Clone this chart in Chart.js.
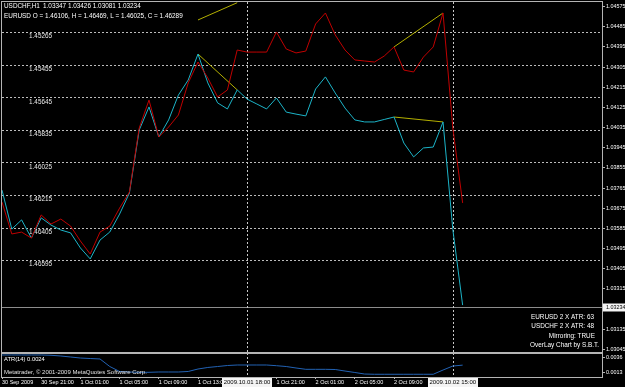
<!DOCTYPE html>
<html>
<head>
<meta charset="utf-8">
<script src="https://cdn.jsdelivr.net/npm/chart.js@4.4.1/dist/chart.umd.min.js"></script>
<style>
  html, body { margin: 0; padding: 0; background: #000; }
  #wrap { position: relative; width: 625px; height: 387px; overflow: hidden; background: #000; }
  .box { position: absolute; left: 0; width: 625px; }
</style>
</head>
<body>
<div id="wrap">
  <div class="box" style="top:0;height:353px"><canvas id="mainChart"></canvas></div>
  <div class="box" style="top:353px;height:34px"><canvas id="atrChart"></canvas></div>
</div>
<script>
// horas desde 1 Oct 2009 00:00 (barras H1)
const hours = [-7, -6, -5, -4, -3, -2, -1, 0, 1, 2, 3, 4, 5, 6, 7, 8, 9, 10, 11, 12, 13, 14, 15, 16,
  17, 18, 19, 20, 21, 22, 23, 24, 25, 26, 27, 28, 29, 30, 31, 32, 33, 34, 35, 36, 37, 38, 39, 40];

const usdchf = [1.03756, 1.03582, 1.03623, 1.03542, 1.03632, 1.03600, 1.03578, 1.03565,
  1.03498, 1.03449, 1.03533, 1.03569, 1.03649, 1.03743, 1.04024, 1.04127,
  1.03993, 1.04069, 1.04180, 1.04247, 1.04363, 1.04234, 1.04145, 1.04118,
  1.04203, 1.04162, 1.04140, 1.04118, 1.04167, 1.04104, 1.04095, 1.04087,
  1.04207, 1.04261, 1.04189, 1.04122, 1.04069, 1.04060, 1.04060, 1.04071,
  1.04082, 1.03966, 1.03904, 1.03944, 1.03948, 1.04060, 1.03580, 1.03243];

// EURUSD espejado (eje invertido)
const eurusd = [1.46253, 1.46439, 1.46428, 1.46463, 1.46328, 1.46381, 1.46352, 1.46393,
  1.46480, 1.46556, 1.46428, 1.46393, 1.46288, 1.46194, 1.45821, 1.45658,
  1.45873, 1.45815, 1.45745, 1.45558, 1.45436, 1.45529, 1.45640, 1.45599,
  1.45366, 1.45378, 1.45378, 1.45378, 1.45261, 1.45360, 1.45383, 1.45372,
  1.45214, 1.45150, 1.45278, 1.45366, 1.45424, 1.45430, 1.45436, 1.45401,
  1.45348, 1.45483, 1.45494, 1.45407, 1.45348, 1.45150, 1.45821, 1.46258];

const atr = [0.00403, 0.00403, 0.00403, 0.00403, 0.00403, 0.00398, 0.00387, 0.00371,
  0.00355, 0.00347, 0.00340, 0.00221, 0.00143, 0.00135, 0.00130, 0.00130,
  0.00135, 0.00135, 0.00135, 0.00143, 0.00182, 0.00206, 0.00221, 0.00237,
  0.00245, 0.00245, 0.00245, 0.00245, 0.00234, 0.00221, 0.00198, 0.00177,
  0.00177, 0.00177, 0.00174, 0.00150, 0.00127, 0.00103, 0.00099, 0.00099,
  0.00099, 0.00099, 0.00099, 0.00099, 0.00099, 0.00166, 0.00229, 0.00243];

// líneas de tendencia (amarillas)
const trendTop = [{ x: 13, y: 1.04515 }, { x: 17, y: 1.04592 }];
const trendUsdA = [{ x: 13, y: 1.04363 }, { x: 17, y: 1.04203 }];
const trendUsdB = [{ x: 33, y: 1.04082 }, { x: 38, y: 1.04060 }];
const trendEur = [{ x: 33, y: 1.45348 }, { x: 38, y: 1.45150 }];

const usdTicks = [1.04575, 1.04485, 1.04395, 1.04305, 1.04215, 1.04125, 1.04035, 1.03945, 1.03855,
  1.03765, 1.03675, 1.03585, 1.03495, 1.03405, 1.03315, 1.03135, 1.03045];
const eurTicks = [1.45265, 1.45455, 1.45645, 1.45835, 1.46025, 1.46215, 1.46405, 1.46595];
const atrTicks = [0.0036, 0.0013];
const timeTicks = [-7, -3, 1, 5, 9, 13, 17, 21, 25, 29, 33, 37];
const timeLabels = ['30 Sep 2009', '30 Sep 21:00', '1 Oct 01:00', '1 Oct 05:00', '1 Oct 09:00', '1 Oct 13:00',
  '1 Oct 17:00', '1 Oct 21:00', '2 Oct 01:00', '2 Oct 05:00', '2 Oct 09:00', '2 Oct 13:00'];
const markerHours = [18, 39];
const markerLabels = ['2009.10.01 18:00', '2009.10.02 15:00'];

const bidPrice = 1.03234;
const usdHeader = ['1.03347', '1.03426', '1.03081', '1.03234'];
const eurHeader = 'EURUSD O = 1.46106, H = 1.46469, L = 1.46025, C = 1.46289';
const infoLines = ['EURUSD 2 X ATR: 63', 'USDCHF 2 X ATR: 48', 'Mirroring: TRUE', 'OverLay Chart by S.B.T.'];

const FONT = '"Liberation Sans", Arial, sans-serif';
Chart.defaults.font.family = FONT;
Chart.defaults.font.size = 6.4;
Chart.defaults.color = '#ffffff';

const pts = arr => arr.map((v, i) => ({ x: hours[i], y: v }));
const xMin = -7, xMax = 54.22;

// quita el relleno que Chart.js reserva para las etiquetas de los extremos
const noPadY = w => s => { s.width = w; s.paddingTop = 0; s.paddingBottom = 0; };

const mainDecor = {
  id: 'mainDecor',
  beforeDatasetsDraw(chart) {
    const { ctx, chartArea: a, scales } = chart;
    ctx.save();
    const yb = Math.round(scales.yUsd.getPixelForValue(bidPrice)) + 0.5;
    ctx.strokeStyle = '#8c8c8c';
    ctx.lineWidth = 1;
    ctx.beginPath(); ctx.moveTo(a.left, yb); ctx.lineTo(a.right, yb); ctx.stroke();
    ctx.setLineDash([2, 2]);
    ctx.strokeStyle = '#c8c8c8';
    markerHours.forEach(h => {
      const x = Math.round(scales.x.getPixelForValue(h)) + 0.5;
      ctx.beginPath(); ctx.moveTo(x, a.top); ctx.lineTo(x, a.bottom); ctx.stroke();
    });
    ctx.restore();
  },
  afterDraw(chart) {
    const { ctx, chartArea: a, scales } = chart;
    ctx.save();
    ctx.strokeStyle = '#b4b4b4';
    ctx.lineWidth = 1;
    ctx.strokeRect(a.left - 0.5, a.top - 0.5, a.right - a.left + 1, a.bottom - a.top + 1);

    ctx.font = '6.4px ' + FONT;
    ctx.fillStyle = '#ffffff';
    ctx.textBaseline = 'middle';
    ctx.textAlign = 'left';
    ctx.fillText('USDCHF,H1', 4, 6.5);
    ctx.fillText(usdHeader.join(' '), 43, 6.5);
    ctx.fillText(eurHeader, 4, 16);

    ctx.textAlign = 'right';
    const infoX = [594, 594, 595, 599];
    const infoY = [317, 326.5, 336, 345.5];
    infoLines.forEach((t, i) => ctx.fillText(t, infoX[i], infoY[i]));

    // recuadro del precio actual
    const yb = Math.round(scales.yUsd.getPixelForValue(bidPrice));
    ctx.font = '5.4px ' + FONT;
    ctx.fillStyle = '#f4f4f4';
    ctx.fillRect(a.right + 1, yb - 3.5, 625 - a.right - 1, 8);
    ctx.fillStyle = '#000000';
    ctx.textAlign = 'left';
    ctx.fillText(bidPrice.toFixed(5), a.right + 4, yb + 0.5);
    ctx.restore();
  }
};

const atrDecor = {
  id: 'atrDecor',
  beforeDatasetsDraw(chart) {
    const { ctx, chartArea: a, scales } = chart;
    ctx.save();
    ctx.setLineDash([2, 2]);
    ctx.strokeStyle = '#c8c8c8';
    ctx.lineWidth = 1;
    markerHours.forEach(h => {
      const x = Math.round(scales.x.getPixelForValue(h)) + 0.5;
      ctx.beginPath(); ctx.moveTo(x, 0); ctx.lineTo(x, a.bottom + 1); ctx.stroke();
    });
    ctx.restore();
  },
  afterDraw(chart) {
    const { ctx, chartArea: a, scales } = chart;
    ctx.save();
    ctx.strokeStyle = '#b4b4b4';
    ctx.lineWidth = 1;
    ctx.strokeRect(a.left - 0.5, a.top - 0.5, a.right - a.left + 1, a.bottom - a.top + 1);

    ctx.textBaseline = 'middle';
    ctx.textAlign = 'left';
    ctx.fillStyle = '#ffffff';
    ctx.font = '5.8px ' + FONT;
    ctx.fillText('ATR(14) ' + atr[atr.length - 1].toFixed(4), 4, 6.5);
    ctx.fillStyle = '#e0e0e0';
    ctx.font = '6px ' + FONT;
    ctx.fillText('Metatrader, \u00a9 2001-2009 MetaQuotes Software Corp.', 4, 19.5);

    ctx.font = '6px ' + FONT;
    markerHours.forEach((h, i) => {
      const x = scales.x.getPixelForValue(h);
      const w = ctx.measureText(markerLabels[i]).width + 3;
      ctx.fillStyle = '#f4f4f4';
      ctx.fillRect(Math.round(x - w / 2), a.bottom + 1, Math.round(w), 9);
      ctx.fillStyle = '#000000';
      ctx.textAlign = 'center';
      ctx.fillText(markerLabels[i], x, a.bottom + 5.5);
    });
    ctx.restore();
  }
};

new Chart(document.getElementById('mainChart'), {
  type: 'line',
  data: {
    datasets: [
      { label: 'EURUSD', data: pts(eurusd), yAxisID: 'yEur', borderColor: '#c00000', borderWidth: 1, pointRadius: 0, tension: 0 },
      { label: 'USDCHF', data: pts(usdchf), yAxisID: 'yUsd', borderColor: '#1cb4c8', borderWidth: 1, pointRadius: 0, tension: 0 },
      { label: 't1', data: trendTop, yAxisID: 'yUsd', borderColor: '#b4b000', borderWidth: 1, pointRadius: 0 },
      { label: 't2', data: trendUsdA, yAxisID: 'yUsd', borderColor: '#b4b000', borderWidth: 1, pointRadius: 0 },
      { label: 't3', data: trendUsdB, yAxisID: 'yUsd', borderColor: '#b4b000', borderWidth: 1, pointRadius: 0 },
      { label: 't4', data: trendEur, yAxisID: 'yEur', borderColor: '#b4b000', borderWidth: 1, pointRadius: 0 }
    ]
  },
  options: {
    responsive: true,
    maintainAspectRatio: false,
    animation: false,
    devicePixelRatio: 1,
    layout: { padding: { top: 2, bottom: 1, left: 0, right: 0 } },
    plugins: { legend: { display: false }, tooltip: { enabled: false } },
    scales: {
      x: { type: 'linear', min: xMin, max: xMax, display: false },
      yEur: {
        position: 'left',
        reverse: true,
        min: 1.450859,
        max: 1.471275,
        afterBuildTicks: s => { s.ticks = eurTicks.map(v => ({ value: v })); },
        afterFit: noPadY(2),
        ticks: {
          mirror: true,
          padding: 27,
          labelOffset: 4,
          color: '#e8e8e8',
          callback: v => v.toFixed(5)
        },
        grid: { color: '#bcbcbc', drawTicks: false, lineWidth: 1 },
        border: { display: false, dash: [2, 2] }
      },
      yUsd: {
        position: 'right',
        min: 1.030337,
        max: 1.045951,
        afterBuildTicks: s => { s.ticks = usdTicks.map(v => ({ value: v })); },
        afterFit: noPadY(23),
        ticks: { autoSkip: false, padding: 1, color: '#ffffff', font: { size: 5.4 }, callback: v => v.toFixed(5) },
        grid: { drawOnChartArea: false, tickLength: 3, color: '#b4b4b4' },
        border: { display: false }
      }
    }
  },
  plugins: [mainDecor]
});

new Chart(document.getElementById('atrChart'), {
  type: 'line',
  data: {
    datasets: [
      { label: 'ATR(14)', data: pts(atr), yAxisID: 'yAtr', borderColor: '#2262b4', borderWidth: 1, pointRadius: 0, tension: 0 }
    ]
  },
  options: {
    responsive: true,
    maintainAspectRatio: false,
    animation: false,
    devicePixelRatio: 1,
    layout: { padding: { top: 1, left: 2, right: 0, bottom: 0 } },
    plugins: { legend: { display: false }, tooltip: { enabled: false } },
    scales: {
      x: {
        type: 'linear',
        min: xMin,
        max: xMax,
        afterBuildTicks: s => { s.ticks = timeTicks.map(v => ({ value: v })); },
        afterFit: s => { s.height = 10; s.paddingLeft = 0; s.paddingRight = 0; },
        ticks: {
          autoSkip: false,
          maxRotation: 0,
          align: 'start',
          padding: 0,
          color: '#ffffff',
          font: { size: 5.5 },
          callback: v => timeLabels[timeTicks.indexOf(v)]
        },
        grid: { drawOnChartArea: false, tickLength: 2, color: '#b4b4b4' },
        border: { display: false }
      },
      yAtr: {
        position: 'right',
        min: 0.00056,
        max: 0.004183,
        afterBuildTicks: s => { s.ticks = atrTicks.map(v => ({ value: v })); },
        afterFit: noPadY(23),
        ticks: { autoSkip: false, padding: 1, color: '#ffffff', font: { size: 5.4 }, callback: v => v.toFixed(4) },
        grid: { drawOnChartArea: false, tickLength: 3, color: '#b4b4b4' },
        border: { display: false }
      }
    }
  },
  plugins: [atrDecor]
});
</script>
</body>
</html>
